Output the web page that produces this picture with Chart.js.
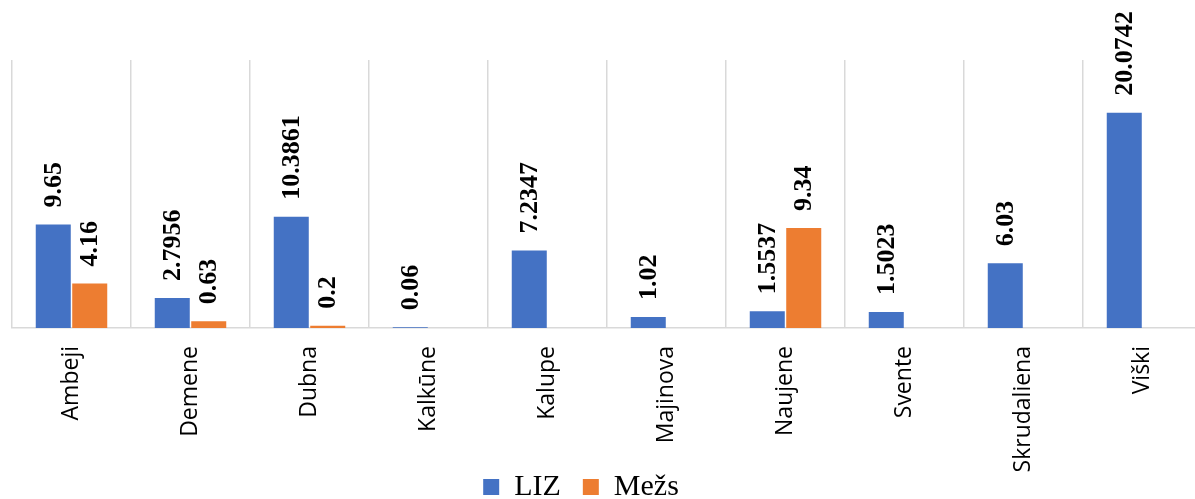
<!DOCTYPE html>
<html>
<head>
<meta charset="utf-8">
<script src="https://cdn.jsdelivr.net/npm/chart.js@4/dist/chart.umd.min.js"></script>
<style>
  html, body { margin: 0; padding: 0; background: #fff; overflow: hidden; }
  #wrap { position: absolute; left: 0; top: 0; width: 1207px; height: 499px; }
</style>
</head>
<body>
<div id="wrap"><canvas id="chart"></canvas></div>
<script>
// areas and values
var places = ["Ambeji", "Demene", "Dubna", "Kalkūne", "Kalupe", "Majinova", "Naujene", "Svente", "Skrudaliena", "Viški"];
var lizValues = [9.65, 2.7956, 10.3861, 0.06, 7.2347, 1.02, 1.5537, 1.5023, 6.03, 20.0742];
var mezsValues = [4.16, 0.63, 0.2, null, null, null, 9.34, null, null, null];
var seriesNames = ["LIZ", "Mežs"];

var BLUE = "#4472C4";
var ORANGE = "#ED7D31";
var GRID = "#d9d9d9";
var SERIF = "'Liberation Serif', 'Times New Roman', serif";

// rotated value labels above each bar
var barLabels = {
    id: "barLabels",
    afterDatasetsDraw: function (chart) {
        var ctx = chart.ctx;
        ctx.save();
        ctx.font = "bold 26px " + SERIF;
        ctx.fillStyle = "#000";
        ctx.textAlign = "left";
        ctx.textBaseline = "middle";
        chart.data.datasets.forEach(function (ds, i) {
            var meta = chart.getDatasetMeta(i);
            meta.data.forEach(function (bar, j) {
                var v = ds.data[j];
                if (v === null || v === undefined) return;
                ctx.save();
                ctx.translate(bar.x, bar.y - 17);
                ctx.rotate(-Math.PI / 2);
                ctx.fillText(String(v), 0, 1);
                ctx.restore();
            });
        });
        ctx.restore();
    }
};

// long category names run down into the legend band, legend sits a bit left/low like the original
var layoutFix = {
    id: "layoutFix",
    afterLayout: function (chart) {
        chart.scales.x.bottom = chart.height;
        var lg = chart.legend;
        var dy = 13, dx = -26;
        lg.top += dy; lg.bottom += dy;
        lg.left += dx; lg.right += dx;
    }
};

new Chart(document.getElementById("chart"), {
    type: "bar",
    data: {
        labels: places,
        datasets: [
            { label: seriesNames[0], data: lizValues, backgroundColor: BLUE, borderWidth: 0 },
            { label: seriesNames[1], data: mezsValues, backgroundColor: ORANGE, borderWidth: 0 }
        ]
    },
    options: {
        responsive: true,
        maintainAspectRatio: false,
        animation: false,
        devicePixelRatio: 1,
        categoryPercentage: 0.613,
        barPercentage: 0.96,
        layout: { padding: { left: 12, right: 5, top: 60, bottom: 0 } },
        plugins: {
            tooltip: { enabled: false },
            legend: {
                position: "bottom",
                labels: {
                    color: "#000",
                    font: { family: SERIF, size: 30 },
                    boxWidth: 16,
                    boxHeight: 16,
                    padding: 22
                }
            }
        },
        scales: {
            x: {
                grid: { color: GRID, lineWidth: 1.5, drawTicks: false, offset: true },
                border: { color: GRID, width: 1.5 },
                ticks: {
                    color: "#000",
                    font: { family: "'Open Sans', sans-serif", size: 23 },
                    minRotation: 90,
                    maxRotation: 90,
                    padding: 18,
                    autoSkip: false
                },
                afterFit: function (scale) { scale.height = 109; }
            },
            y: {
                display: false,
                min: 0,
                max: 25
            }
        }
    },
    plugins: [barLabels, layoutFix]
});
</script>
</body>
</html>
